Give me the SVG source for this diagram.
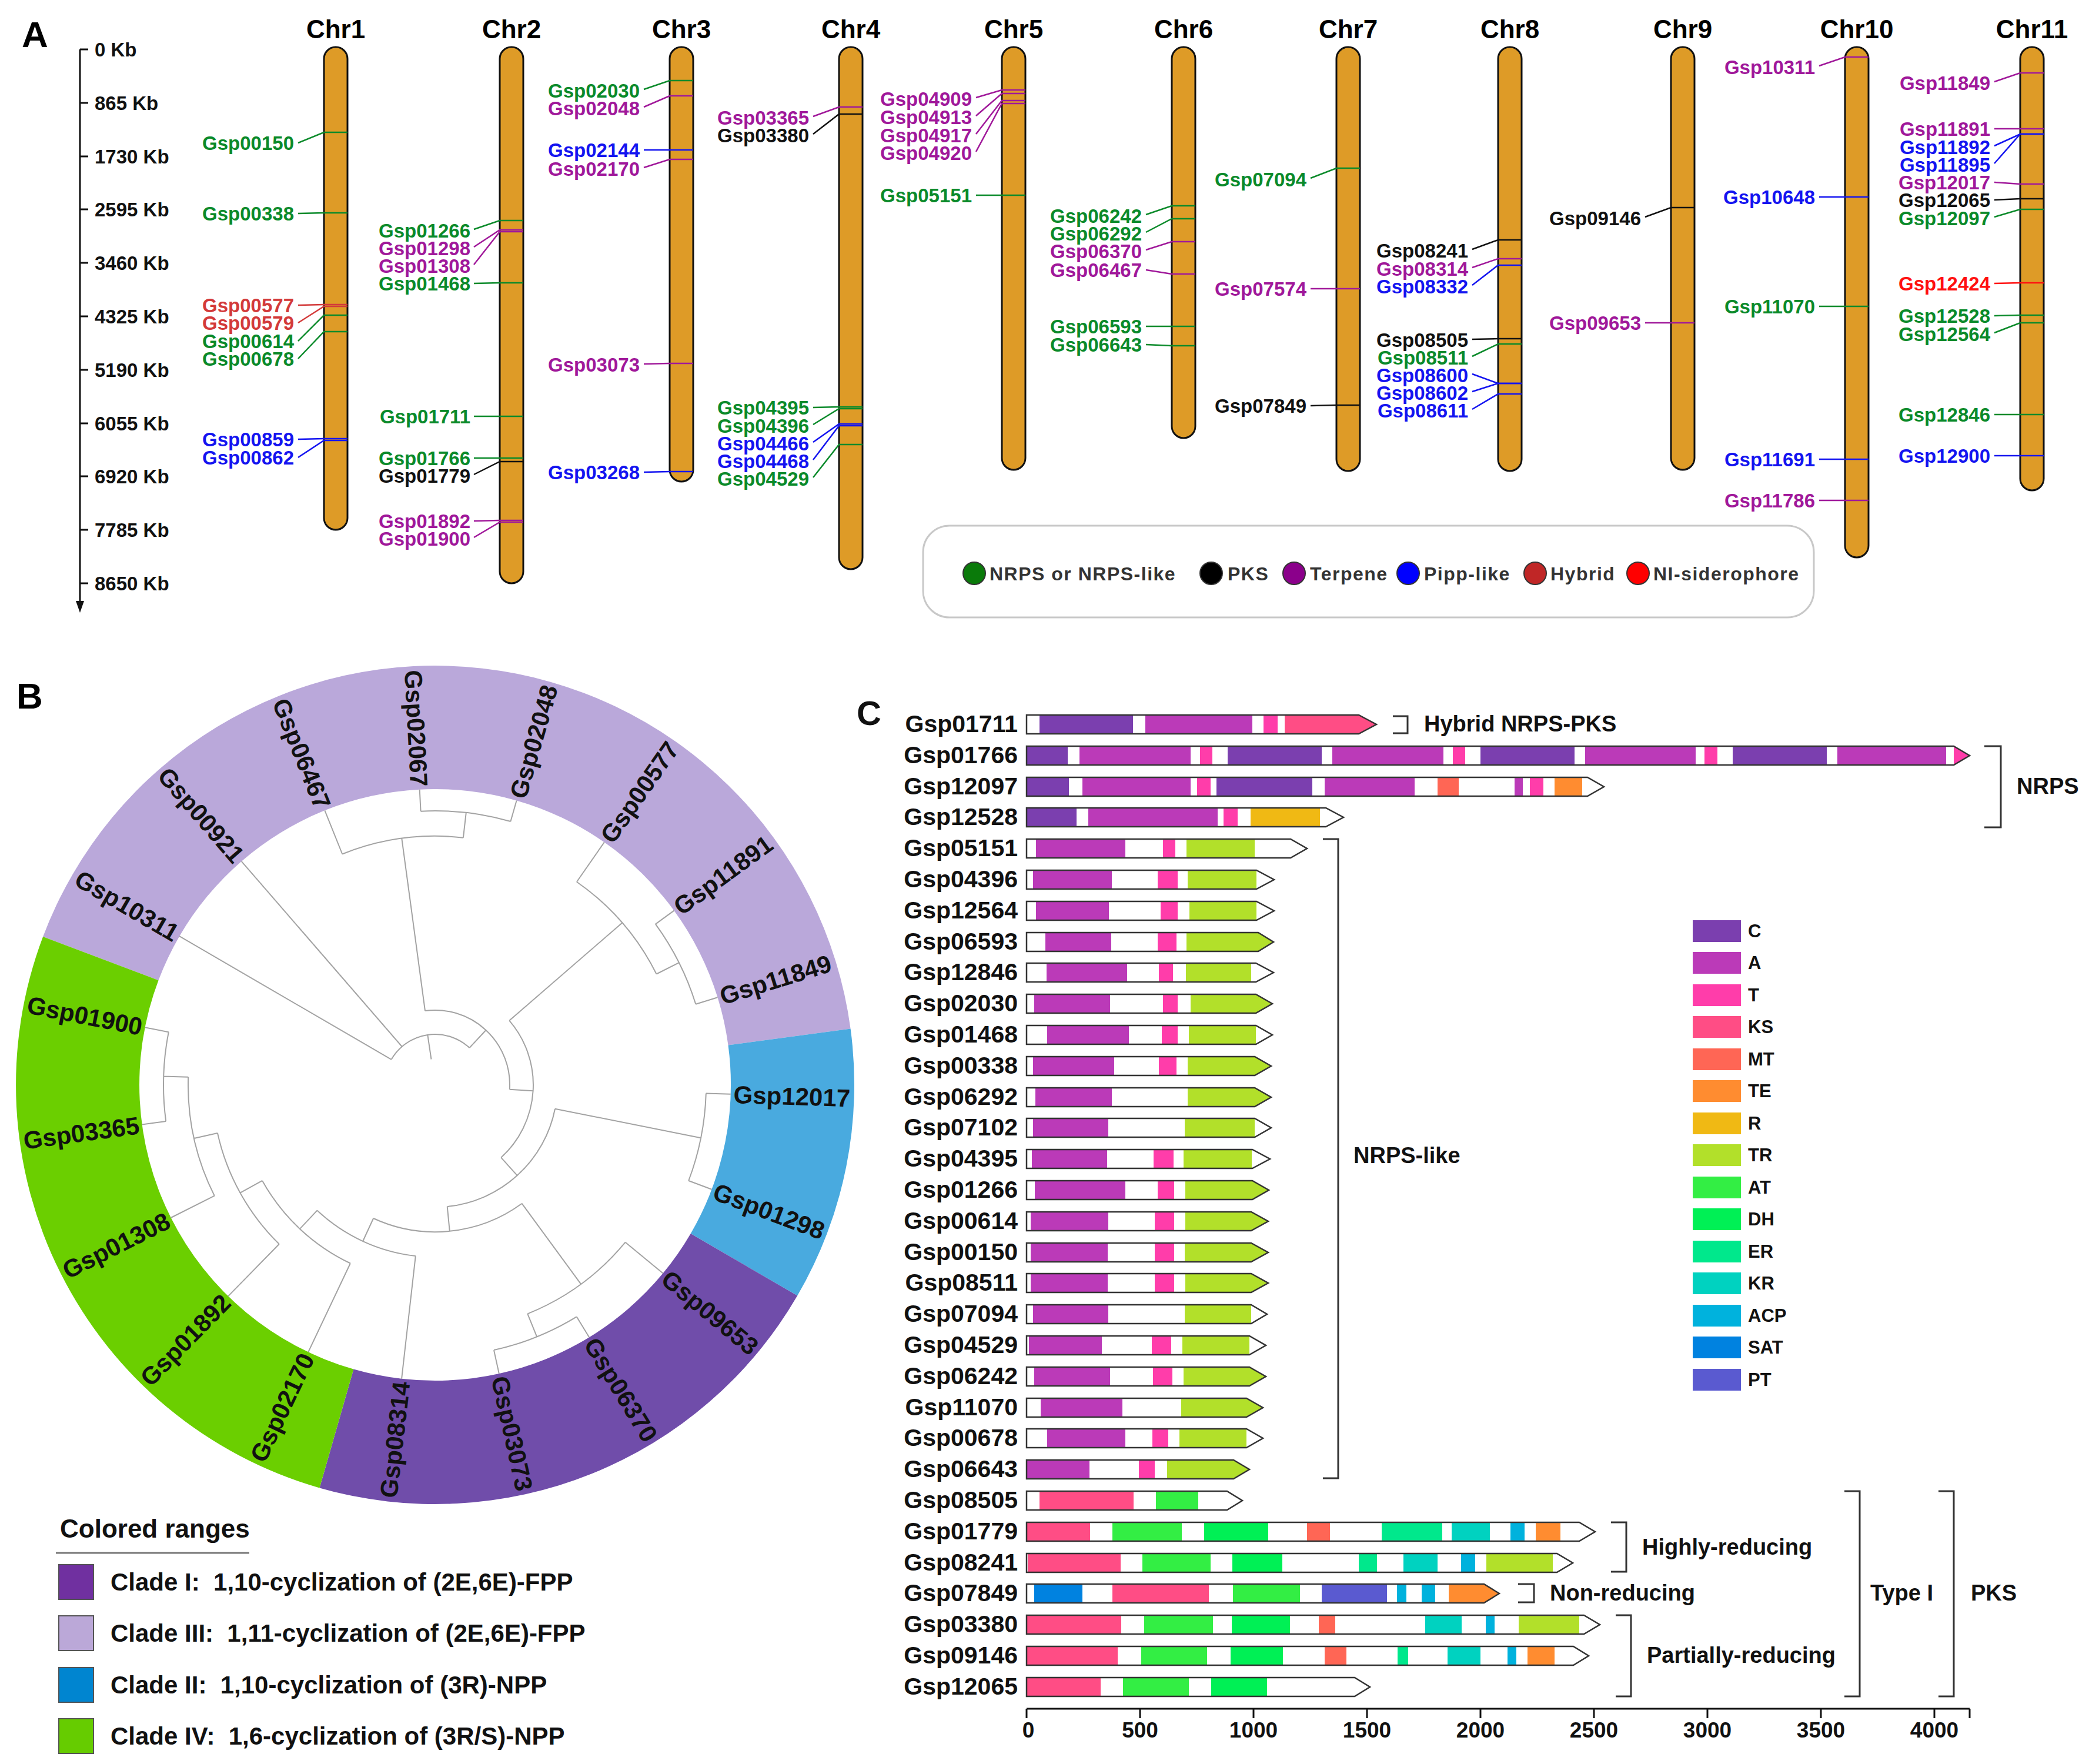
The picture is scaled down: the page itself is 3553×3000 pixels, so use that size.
<svg xmlns="http://www.w3.org/2000/svg" width="3553" height="3000" viewBox="0 0 3553 3000">
<style>
text{font-family:'Liberation Sans',Arial,Helvetica,sans-serif;font-weight:bold}
.pl{font-size:62px}
.chrl{font-size:44px;text-anchor:middle}
.chr{fill:#DE9B27;stroke:#111;stroke-width:3}
.ax{stroke:#111;stroke-width:3;fill:none}
.axt{font-size:33px;fill:#111}
.ga text{font-size:33px;text-anchor:end}
.ga path{fill:none;stroke-width:2.5}
.G text{fill:#0A8A2A}.G path{stroke:#0A8A2A}
.M text{fill:#A0189A}.M path{stroke:#A0189A}
.B text{fill:#1414F0}.B path{stroke:#1414F0}
.K text{fill:#111}.K path{stroke:#111}
.H text{fill:#D33A3A}.H path{stroke:#D33A3A}
.N text{fill:#FF1010}.N path{stroke:#FF1010}
.lgA{font-size:32px;fill:#333;letter-spacing:1.5px}
.lc{stroke:#333;stroke-width:2}
.tree{fill:none;stroke:#A3A3A3;stroke-width:2}
.bl{font-size:42px;fill:#111}
.bl2{font-size:42px;fill:#111;text-anchor:end}
.lgB{font-size:42px;fill:#111;white-space:pre}
.sw{stroke:#555;stroke-width:2}
.cl{font-size:41px;fill:#111;text-anchor:end}
.bg{fill:#fff}
.ol{fill:none;stroke:#333;stroke-width:2.5;stroke-linejoin:miter}
.dC{fill:#7B3FAF}.dA{fill:#BB3AB8}.dT{fill:#FF3DAA}.dKS{fill:#FF4D85}.dMT{fill:#FF6655}.dTE{fill:#FF8C30}.dR{fill:#F0B914}.dTR{fill:#B2E02A}.dAT{fill:#33EE44}.dDH{fill:#00F055}.dER{fill:#00E88C}.dKR{fill:#00D2C0}.dACP{fill:#00B2DD}.dSAT{fill:#0082E0}.dPT{fill:#5A5AD0}
.brk{fill:none;stroke:#333;stroke-width:3}
.bt{font-size:38px;fill:#111}
.lgC{font-size:31px;fill:#111}
.cax{font-size:37px;fill:#111;text-anchor:middle}
</style>
<rect width="3553" height="3000" fill="#fff"/>

<!-- ================= PANEL A ================= -->
<text class="pl" x="37" y="80">A</text>
<g id="scale">
<path class="ax" d="M136 84V1026M136 84H150M136 175H150M136 266H150M136 356H150M136 447H150M136 538H150M136 629H150M136 720H150M136 810H150M136 901H150M136 992H150"/>
<polygon points="129,1022 143,1022 136,1042" fill="#111"/>
<text class="axt" x="161" y="96">0 Kb</text>
<text class="axt" x="161" y="187">865 Kb</text>
<text class="axt" x="161" y="278">1730 Kb</text>
<text class="axt" x="161" y="368">2595 Kb</text>
<text class="axt" x="161" y="459">3460 Kb</text>
<text class="axt" x="161" y="550">4325 Kb</text>
<text class="axt" x="161" y="641">5190 Kb</text>
<text class="axt" x="161" y="732">6055 Kb</text>
<text class="axt" x="161" y="822">6920 Kb</text>
<text class="axt" x="161" y="913">7785 Kb</text>
<text class="axt" x="161" y="1004">8650 Kb</text>
</g>

<g id="chromosomes">
<g id="Chr1"><text class="chrl" x="571" y="65">Chr1</text><rect class="chr" x="551" y="80" width="40" height="821" rx="20"/></g>
<g id="Chr2"><text class="chrl" x="870" y="65">Chr2</text><rect class="chr" x="850" y="80" width="40" height="912" rx="20"/></g>
<g id="Chr3"><text class="chrl" x="1159" y="65">Chr3</text><rect class="chr" x="1139" y="80" width="40" height="739" rx="20"/></g>
<g id="Chr4"><text class="chrl" x="1447" y="65">Chr4</text><rect class="chr" x="1427" y="80" width="40" height="888" rx="20"/></g>
<g id="Chr5"><text class="chrl" x="1724" y="65">Chr5</text><rect class="chr" x="1704" y="80" width="40" height="719" rx="20"/></g>
<g id="Chr6"><text class="chrl" x="2013" y="65">Chr6</text><rect class="chr" x="1993" y="80" width="40" height="665" rx="20"/></g>
<g id="Chr7"><text class="chrl" x="2293" y="65">Chr7</text><rect class="chr" x="2273" y="80" width="40" height="721" rx="20"/></g>
<g id="Chr8"><text class="chrl" x="2568" y="65">Chr8</text><rect class="chr" x="2548" y="80" width="40" height="721" rx="20"/></g>
<g id="Chr9"><text class="chrl" x="2862" y="65">Chr9</text><rect class="chr" x="2842" y="80" width="40" height="719" rx="20"/></g>
<g id="Chr10"><text class="chrl" x="3158" y="65">Chr10</text><rect class="chr" x="3138" y="80" width="40" height="868" rx="20"/></g>
<g id="Chr11"><text class="chrl" x="3456" y="65">Chr11</text><rect class="chr" x="3436" y="80" width="40" height="754" rx="20"/></g>
</g>

<g id="gene-labels" class="ga">
<!-- Chr1 -->
<g id="a-Gsp00150" class="G"><text x="500" y="255">Gsp00150</text><path d="M507 243L551 225H591"/></g>
<g id="a-Gsp00338" class="G"><text x="500" y="375">Gsp00338</text><path d="M507 363L551 362H591"/></g>
<g id="a-Gsp00577" class="H"><text x="500" y="531">Gsp00577</text><path d="M507 519L551 518H591"/></g>
<g id="a-Gsp00579" class="H"><text x="500" y="561">Gsp00579</text><path d="M507 549L551 521H591"/></g>
<g id="a-Gsp00614" class="G"><text x="500" y="592">Gsp00614</text><path d="M507 580L551 536H591"/></g>
<g id="a-Gsp00678" class="G"><text x="500" y="622">Gsp00678</text><path d="M507 610L551 564H591"/></g>
<g id="a-Gsp00859" class="B"><text x="500" y="759">Gsp00859</text><path d="M507 747L551 746H591"/></g>
<g id="a-Gsp00862" class="B"><text x="500" y="790">Gsp00862</text><path d="M507 778L551 749H591"/></g>
<!-- Chr2 -->
<g id="a-Gsp01266" class="G"><text x="800" y="404">Gsp01266</text><path d="M806 390L850 375H890"/></g>
<g id="a-Gsp01298" class="M"><text x="800" y="434">Gsp01298</text><path d="M806 420L850 391H890"/></g>
<g id="a-Gsp01308" class="M"><text x="800" y="464">Gsp01308</text><path d="M806 450L850 394H890"/></g>
<g id="a-Gsp01468" class="G"><text x="800" y="494">Gsp01468</text><path d="M806 482L850 481H890"/></g>
<g id="a-Gsp01711" class="G"><text x="800" y="720">Gsp01711</text><path d="M806 708L850 708H890"/></g>
<g id="a-Gsp01766" class="G"><text x="800" y="791">Gsp01766</text><path d="M806 779L850 779H890"/></g>
<g id="a-Gsp01779" class="K"><text x="800" y="821">Gsp01779</text><path d="M806 807L850 785H890"/></g>
<g id="a-Gsp01892" class="M"><text x="800" y="898">Gsp01892</text><path d="M806 886L850 885H890"/></g>
<g id="a-Gsp01900" class="M"><text x="800" y="928">Gsp01900</text><path d="M806 914L850 888H890"/></g>
<!-- Chr3 -->
<g id="a-Gsp02030" class="G"><text x="1088" y="166">Gsp02030</text><path d="M1095 152L1139 137H1179"/></g>
<g id="a-Gsp02048" class="M"><text x="1088" y="196">Gsp02048</text><path d="M1095 182L1139 163H1179"/></g>
<g id="a-Gsp02144" class="B"><text x="1088" y="267">Gsp02144</text><path d="M1095 255L1139 255H1179"/></g>
<g id="a-Gsp02170" class="M"><text x="1088" y="299">Gsp02170</text><path d="M1095 285L1139 271H1179"/></g>
<g id="a-Gsp03073" class="M"><text x="1088" y="632">Gsp03073</text><path d="M1095 619L1139 618H1179"/></g>
<g id="a-Gsp03268" class="B"><text x="1088" y="815">Gsp03268</text><path d="M1095 803L1139 802H1179"/></g>
<!-- Chr4 -->
<g id="a-Gsp03365" class="M"><text x="1376" y="212">Gsp03365</text><path d="M1383 198L1427 182H1467"/></g>
<g id="a-Gsp03380" class="K"><text x="1376" y="242">Gsp03380</text><path d="M1383 228L1427 194H1467"/></g>
<g id="a-Gsp04395" class="G"><text x="1376" y="705">Gsp04395</text><path d="M1383 693L1427 692H1467"/></g>
<g id="a-Gsp04396" class="G"><text x="1376" y="736">Gsp04396</text><path d="M1383 722L1427 695H1467"/></g>
<g id="a-Gsp04466" class="B"><text x="1376" y="766">Gsp04466</text><path d="M1383 752L1427 721H1467"/></g>
<g id="a-Gsp04468" class="B"><text x="1376" y="796">Gsp04468</text><path d="M1383 782L1427 724H1467"/></g>
<g id="a-Gsp04529" class="G"><text x="1376" y="826">Gsp04529</text><path d="M1383 812L1427 756H1467"/></g>
<!-- Chr5 -->
<g id="a-Gsp04909" class="M"><text x="1653" y="180">Gsp04909</text><path d="M1660 166L1704 153H1744"/></g>
<g id="a-Gsp04913" class="M"><text x="1653" y="211">Gsp04913</text><path d="M1660 197L1704 159H1744"/></g>
<g id="a-Gsp04917" class="M"><text x="1653" y="242">Gsp04917</text><path d="M1660 228L1704 171H1744"/></g>
<g id="a-Gsp04920" class="M"><text x="1653" y="272">Gsp04920</text><path d="M1660 258L1704 176H1744"/></g>
<g id="a-Gsp05151" class="G"><text x="1653" y="344">Gsp05151</text><path d="M1660 332L1704 332H1744"/></g>
<!-- Chr6 -->
<g id="a-Gsp06242" class="G"><text x="1942" y="379">Gsp06242</text><path d="M1949 365L1993 350H2033"/></g>
<g id="a-Gsp06292" class="G"><text x="1942" y="409">Gsp06292</text><path d="M1949 395L1993 372H2033"/></g>
<g id="a-Gsp06370" class="M"><text x="1942" y="439">Gsp06370</text><path d="M1949 425L1993 411H2033"/></g>
<g id="a-Gsp06467" class="M"><text x="1942" y="471">Gsp06467</text><path d="M1949 459L1993 466H2033"/></g>
<g id="a-Gsp06593" class="G"><text x="1942" y="567">Gsp06593</text><path d="M1949 555L1993 555H2033"/></g>
<g id="a-Gsp06643" class="G"><text x="1942" y="598">Gsp06643</text><path d="M1949 586L1993 588H2033"/></g>
<!-- Chr7 -->
<g id="a-Gsp07094" class="G"><text x="2222" y="317">Gsp07094</text><path d="M2229 303L2273 286H2313"/></g>
<g id="a-Gsp07574" class="M"><text x="2222" y="503">Gsp07574</text><path d="M2229 491L2273 491H2313"/></g>
<g id="a-Gsp07849" class="K"><text x="2222" y="702">Gsp07849</text><path d="M2229 690L2273 689H2313"/></g>
<!-- Chr8 -->
<g id="a-Gsp08241" class="K"><text x="2497" y="438">Gsp08241</text><path d="M2504 424L2548 408H2588"/></g>
<g id="a-Gsp08314" class="M"><text x="2497" y="469">Gsp08314</text><path d="M2504 455L2548 440H2588"/></g>
<g id="a-Gsp08332" class="B"><text x="2497" y="499">Gsp08332</text><path d="M2504 485L2548 451H2588"/></g>
<g id="a-Gsp08505" class="K"><text x="2497" y="590">Gsp08505</text><path d="M2504 577L2548 576H2588"/></g>
<g id="a-Gsp08511" class="G"><text x="2497" y="620">Gsp08511</text><path d="M2504 606L2548 585H2588"/></g>
<g id="a-Gsp08600" class="B"><text x="2497" y="650">Gsp08600</text><path d="M2504 636L2548 652H2588"/></g>
<g id="a-Gsp08602" class="B"><text x="2497" y="680">Gsp08602</text><path d="M2504 666L2548 652H2588"/></g>
<g id="a-Gsp08611" class="B"><text x="2497" y="710">Gsp08611</text><path d="M2504 696L2548 670H2588"/></g>
<!-- Chr9 -->
<g id="a-Gsp09146" class="K"><text x="2791" y="383">Gsp09146</text><path d="M2798 369L2842 353H2882"/></g>
<g id="a-Gsp09653" class="M"><text x="2791" y="561">Gsp09653</text><path d="M2798 549L2842 549H2882"/></g>
<!-- Chr10 -->
<g id="a-Gsp10311" class="M"><text x="3087" y="126">Gsp10311</text><path d="M3094 112L3138 97H3178"/></g>
<g id="a-Gsp10648" class="B"><text x="3087" y="347">Gsp10648</text><path d="M3094 335L3138 335H3178"/></g>
<g id="a-Gsp11070" class="G"><text x="3087" y="533">Gsp11070</text><path d="M3094 521L3138 521H3178"/></g>
<g id="a-Gsp11691" class="B"><text x="3087" y="793">Gsp11691</text><path d="M3094 781L3138 781H3178"/></g>
<g id="a-Gsp11786" class="M"><text x="3087" y="863">Gsp11786</text><path d="M3094 851L3138 851H3178"/></g>
<!-- Chr11 -->
<g id="a-Gsp11849" class="M"><text x="3385" y="153">Gsp11849</text><path d="M3392 139L3436 124H3476"/></g>
<g id="a-Gsp11891" class="M"><text x="3385" y="231">Gsp11891</text><path d="M3392 219L3436 219H3476"/></g>
<g id="a-Gsp11892" class="B"><text x="3385" y="262">Gsp11892</text><path d="M3392 248L3436 228H3476"/></g>
<g id="a-Gsp11895" class="B"><text x="3385" y="292">Gsp11895</text><path d="M3392 278L3436 228H3476"/></g>
<g id="a-Gsp12017" class="M"><text x="3385" y="322">Gsp12017</text><path d="M3392 310L3436 313H3476"/></g>
<g id="a-Gsp12065" class="K"><text x="3385" y="352">Gsp12065</text><path d="M3392 340L3436 338H3476"/></g>
<g id="a-Gsp12097" class="G"><text x="3385" y="383">Gsp12097</text><path d="M3392 369L3436 356H3476"/></g>
<g id="a-Gsp12424" class="N"><text x="3385" y="494">Gsp12424</text><path d="M3392 482L3436 481H3476"/></g>
<g id="a-Gsp12528" class="G"><text x="3385" y="549">Gsp12528</text><path d="M3392 537L3436 536H3476"/></g>
<g id="a-Gsp12564" class="G"><text x="3385" y="580">Gsp12564</text><path d="M3392 566L3436 549H3476"/></g>
<g id="a-Gsp12846" class="G"><text x="3385" y="717">Gsp12846</text><path d="M3392 705L3436 705H3476"/></g>
<g id="a-Gsp12900" class="B"><text x="3385" y="787">Gsp12900</text><path d="M3392 775L3436 775H3476"/></g>
</g>

<g id="legend-A">
<rect x="1570" y="894" width="1515" height="156" rx="45" fill="#fff" stroke="#C8C8C8" stroke-width="3"/>
<circle class="lc" cx="1657" cy="975" r="19" fill="#0A7A0A"/>
<text class="lgA" x="1683" y="987">NRPS or NRPS-like</text>
<circle class="lc" cx="2060" cy="975" r="19" fill="#000"/>
<text class="lgA" x="2088" y="987">PKS</text>
<circle class="lc" cx="2201" cy="975" r="19" fill="#8B008B"/>
<text class="lgA" x="2228" y="987">Terpene</text>
<circle class="lc" cx="2395" cy="975" r="19" fill="#0000FF"/>
<text class="lgA" x="2422" y="987">Pipp-like</text>
<circle class="lc" cx="2611" cy="975" r="19" fill="#C02626"/>
<text class="lgA" x="2637" y="987">Hybrid</text>
<circle class="lc" cx="2786" cy="975" r="19" fill="#FF0000"/>
<text class="lgA" x="2812" y="987">NI-siderophore</text>
</g>

<!-- ================= PANEL B ================= -->
<text class="pl" x="28" y="1205">B</text>
<g id="ring">
<path fill="#BAA8DA" d="M73.1 1593.0A713 713 0 0 1 1446.6 1749.5L1238.5 1777.6A503 503 0 0 0 269.5 1667.2Z"/>
<path fill="#49AADF" d="M1446.6 1749.5A713 713 0 0 1 1356.2 2203.6L1174.7 2098.0A503 503 0 0 0 1238.5 1777.6Z"/>
<path fill="#704DAA" d="M1356.2 2203.6A713 713 0 0 1 543.5 2530.4L601.4 2328.5A503 503 0 0 0 1174.7 2098.0Z"/>
<path fill="#6BCF00" d="M543.5 2530.4A713 713 0 0 1 73.1 1593.0L269.5 1667.2A503 503 0 0 0 601.4 2328.5Z"/>
</g>
<g id="tree-connectors">
<path class="tree" d="M733.5 1801.5L727.3 1759.9
M665.6 1801.8A86 86 0 0 1 798.5 1782.0
M665.6 1801.8L305.1 1592.2
M683.7 1780.0L410.7 1464.8
M798.5 1782.0L826.4 1752.0
M723.0 1719.1A127 127 0 0 1 866.8 1852.7
M723.0 1719.1L683.3 1425.8
M582.2 1452.5A423 423 0 0 1 787.9 1424.7
M582.2 1452.5L552.4 1378.3
M787.9 1424.7L792.8 1382.0
M715.6 1379.7A466 466 0 0 1 868.4 1397.0
M715.6 1379.7L713.7 1342.7
M868.4 1397.0L878.6 1361.5
M866.8 1852.7L906.7 1855.2
M866.2 1735.7A167 167 0 0 1 852.2 1968.7
M866.2 1735.7L1058.2 1569.4
M980.9 1499.7A421 421 0 0 1 1116.5 1656.5
M980.9 1499.7L1027.8 1432.4
M1116.5 1656.5L1154.9 1637.2
M1114.9 1571.6A464 464 0 0 1 1183.3 1707.8
M1114.9 1571.6L1146.4 1548.6
M1183.3 1707.8L1220.5 1696.3
M852.2 1968.7L879.7 1999.1
M944.0 1885.7A208 208 0 0 1 760.7 2052.0
M944.0 1885.7L1192.1 1935.3
M1200.8 1859.5A461 461 0 0 1 1171.2 2008.0
M1200.8 1859.5L1242.7 1860.8
M1171.2 2008.0L1210.5 2022.8
M760.7 2052.0L764.8 2093.8
M887.7 2046.8A250 250 0 0 1 635.1 2072.0
M887.7 2046.8L988.1 2183.9
M1063.6 2112.7A420 420 0 0 1 897.3 2234.4
M1063.6 2112.7L1127.6 2165.6
M897.3 2234.4L913.1 2273.4
M980.7 2239.3A462 462 0 0 1 840.0 2296.1
M980.7 2239.3L1002.1 2274.3
M840.0 2296.1L848.8 2336.1
M635.1 2072.0L617.1 2111.0
M706.8 2136.1A293 293 0 0 1 539.4 2058.6
M706.8 2136.1L683.1 2344.8
M539.4 2058.6L510.0 2089.9
M595.9 2148.5A336 336 0 0 1 446.1 2007.9
M595.9 2148.5L524.3 2299.4
M446.1 2007.9L408.5 2028.7
M474.8 2115.8A379 379 0 0 1 370.0 1927.0
M474.8 2115.8L388.1 2204.4
M370.0 1927.0L330.0 1935.9
M364.8 2033.7A420 420 0 0 1 320.2 1831.8
M364.8 2033.7L290.6 2071.0
M320.2 1831.8L278.2 1830.5
M282.2 1906.9A462 462 0 0 1 286.8 1755.3
M282.2 1906.9L241.5 1912.4
M286.8 1755.3L246.6 1747.3"/>
</g>
<g id="tree-labels">
<g id="b-Gsp11849"><text class="bl" x="1248" y="1845" dy="0.36em" transform="rotate(-17.2 740 1845)">Gsp11849</text></g>
<g id="b-Gsp11891"><text class="bl" x="1248" y="1845" dy="0.36em" transform="rotate(-36.1 740 1845)">Gsp11891</text></g>
<g id="b-Gsp00577"><text class="bl" x="1248" y="1845" dy="0.36em" transform="rotate(-55.1 740 1845)">Gsp00577</text></g>
<g id="b-Gsp02048"><text class="bl" x="1248" y="1845" dy="0.36em" transform="rotate(-74 740 1845)">Gsp02048</text></g>
<g id="b-Gsp12017"><text class="bl" x="1248" y="1845" dy="0.36em" transform="rotate(1.8 740 1845)">Gsp12017</text></g>
<g id="b-Gsp01298"><text class="bl" x="1248" y="1845" dy="0.36em" transform="rotate(20.7 740 1845)">Gsp01298</text></g>
<g id="b-Gsp09653"><text class="bl" x="1248" y="1845" dy="0.36em" transform="rotate(39.6 740 1845)">Gsp09653</text></g>
<g id="b-Gsp06370"><text class="bl" x="1248" y="1845" dy="0.36em" transform="rotate(58.6 740 1845)">Gsp06370</text></g>
<g id="b-Gsp03073"><text class="bl" x="1248" y="1845" dy="0.36em" transform="rotate(77.5 740 1845)">Gsp03073</text></g>
<g id="b-Gsp08314"><text class="bl2" x="232" y="1845" dy="0.36em" transform="rotate(-83.5 740 1845)">Gsp08314</text></g>
<g id="b-Gsp02170"><text class="bl2" x="232" y="1845" dy="0.36em" transform="rotate(-64.6 740 1845)">Gsp02170</text></g>
<g id="b-Gsp01892"><text class="bl2" x="232" y="1845" dy="0.36em" transform="rotate(-45.6 740 1845)">Gsp01892</text></g>
<g id="b-Gsp01308"><text class="bl2" x="232" y="1845" dy="0.36em" transform="rotate(-26.7 740 1845)">Gsp01308</text></g>
<g id="b-Gsp03365"><text class="bl2" x="232" y="1845" dy="0.36em" transform="rotate(-7.7 740 1845)">Gsp03365</text></g>
<g id="b-Gsp01900"><text class="bl2" x="232" y="1845" dy="0.36em" transform="rotate(11.2 740 1845)">Gsp01900</text></g>
<g id="b-Gsp10311"><text class="bl2" x="232" y="1845" dy="0.36em" transform="rotate(30.2 740 1845)">Gsp10311</text></g>
<g id="b-Gsp00921"><text class="bl2" x="232" y="1845" dy="0.36em" transform="rotate(49.1 740 1845)">Gsp00921</text></g>
<g id="b-Gsp06467"><text class="bl2" x="232" y="1845" dy="0.36em" transform="rotate(68.1 740 1845)">Gsp06467</text></g>
<g id="b-Gsp02067"><text class="bl2" x="232" y="1845" dy="0.36em" transform="rotate(87 740 1845)">Gsp02067</text></g>
</g>
<g id="legend-B">
<text x="102" y="2615" font-size="44" fill="#111">Colored ranges</text>
<path d="M95 2641H424" stroke="#777" stroke-width="3"/>
<rect class="sw" x="100" y="2661" width="59" height="59" fill="#7030A0"/>
<text class="lgB" x="188" y="2705">Clade I:  1,10-cyclization of (2E,6E)-FPP</text>
<rect class="sw" x="100" y="2748" width="59" height="59" fill="#BBA8D8"/>
<text class="lgB" x="188" y="2792">Clade III:  1,11-cyclization of (2E,6E)-FPP</text>
<rect class="sw" x="100" y="2836" width="59" height="59" fill="#0085D0"/>
<text class="lgB" x="188" y="2880">Clade II:  1,10-cyclization of (3R)-NPP</text>
<rect class="sw" x="100" y="2923" width="59" height="59" fill="#66CC00"/>
<text class="lgB" x="188" y="2967">Clade IV:  1,6-cyclization of (3R/S)-NPP</text>
</g>

<!-- ================= PANEL C ================= -->
<text x="1457" y="1233" font-size="58" fill="#111">C</text>
<g id="domain-rows">
<g id="c-Gsp01711" transform="translate(0,1232)"><path class="bg" d="M1746 -16H2311L2341 0L2311 16H1746Z"/><rect class="dC" x="1768" y="-16" width="159" height="32"/><rect class="dA" x="1948" y="-16" width="182" height="32"/><rect class="dT" x="2149" y="-16" width="24" height="32"/><rect class="dKS" x="2185" y="-16" width="126" height="32"/><path class="dKS" d="M2311 -16L2341 0L2311 16Z"/><path class="ol" d="M1746 -16H2311L2341 0L2311 16H1746Z"/><text class="cl" x="1731" y="13">Gsp01711</text></g>
<g id="c-Gsp01766" transform="translate(0,1285)"><path class="bg" d="M1746 -16H3323L3350 0L3323 16H1746Z"/><rect class="dC" x="1746" y="-16" width="70" height="32"/><rect class="dA" x="1836" y="-16" width="189" height="32"/><rect class="dT" x="2041" y="-16" width="21" height="32"/><rect class="dC" x="2088" y="-16" width="160" height="32"/><rect class="dA" x="2266" y="-16" width="189" height="32"/><rect class="dT" x="2471" y="-16" width="21" height="32"/><rect class="dC" x="2518" y="-16" width="160" height="32"/><rect class="dA" x="2696" y="-16" width="188" height="32"/><rect class="dT" x="2899" y="-16" width="22" height="32"/><rect class="dC" x="2947" y="-16" width="160" height="32"/><rect class="dA" x="3125" y="-16" width="185" height="32"/><path class="dT" d="M3323 -16L3350 0L3323 16Z"/><path class="ol" d="M1746 -16H3323L3350 0L3323 16H1746Z"/><text class="cl" x="1731" y="13">Gsp01766</text></g>
<g id="c-Gsp12097" transform="translate(0,1338)"><path class="bg" d="M1746 -16H2700L2728 0L2700 16H1746Z"/><rect class="dC" x="1746" y="-16" width="72" height="32"/><rect class="dA" x="1841" y="-16" width="184" height="32"/><rect class="dT" x="2036" y="-16" width="23" height="32"/><rect class="dC" x="2069" y="-16" width="163" height="32"/><rect class="dA" x="2253" y="-16" width="153" height="32"/><rect class="dMT" x="2445" y="-16" width="36" height="32"/><rect class="dA" x="2576" y="-16" width="14" height="32"/><rect class="dT" x="2602" y="-16" width="23" height="32"/><rect class="dTE" x="2644" y="-16" width="47" height="32"/><path class="ol" d="M1746 -16H2700L2728 0L2700 16H1746Z"/><text class="cl" x="1731" y="13">Gsp12097</text></g>
<g id="c-Gsp12528" transform="translate(0,1390)"><path class="bg" d="M1746 -16H2255L2285 0L2255 16H1746Z"/><rect class="dC" x="1746" y="-16" width="85" height="32"/><rect class="dA" x="1851" y="-16" width="220" height="32"/><rect class="dT" x="2081" y="-16" width="24" height="32"/><rect class="dR" x="2127" y="-16" width="118" height="32"/><path class="ol" d="M1746 -16H2255L2285 0L2255 16H1746Z"/><text class="cl" x="1731" y="13">Gsp12528</text></g>
<g id="c-Gsp05151" transform="translate(0,1443)"><path class="bg" d="M1746 -16H2195L2223 0L2195 16H1746Z"/><rect class="dA" x="1762" y="-16" width="152" height="32"/><rect class="dT" x="1978" y="-16" width="21" height="32"/><rect class="dTR" x="2018" y="-16" width="116" height="32"/><path class="ol" d="M1746 -16H2195L2223 0L2195 16H1746Z"/><text class="cl" x="1731" y="13">Gsp05151</text></g>
<g id="c-Gsp04396" transform="translate(0,1496)"><path class="bg" d="M1746 -16H2137L2167 0L2137 16H1746Z"/><rect class="dA" x="1757" y="-16" width="134" height="32"/><rect class="dT" x="1969" y="-16" width="34" height="32"/><rect class="dTR" x="2020" y="-16" width="117" height="32"/><path class="ol" d="M1746 -16H2137L2167 0L2137 16H1746Z"/><text class="cl" x="1731" y="13">Gsp04396</text></g>
<g id="c-Gsp12564" transform="translate(0,1549)"><path class="bg" d="M1746 -16H2137L2167 0L2137 16H1746Z"/><rect class="dA" x="1762" y="-16" width="124" height="32"/><rect class="dT" x="1974" y="-16" width="29" height="32"/><rect class="dTR" x="2023" y="-16" width="114" height="32"/><path class="ol" d="M1746 -16H2137L2167 0L2137 16H1746Z"/><text class="cl" x="1731" y="13">Gsp12564</text></g>
<g id="c-Gsp06593" transform="translate(0,1602)"><path class="bg" d="M1746 -16H2140L2166 0L2140 16H1746Z"/><rect class="dA" x="1778" y="-16" width="112" height="32"/><rect class="dT" x="1969" y="-16" width="32" height="32"/><rect class="dTR" x="2018" y="-16" width="122" height="32"/><path class="dTR" d="M2140 -16L2166 0L2140 16Z"/><path class="ol" d="M1746 -16H2140L2166 0L2140 16H1746Z"/><text class="cl" x="1731" y="13">Gsp06593</text></g>
<g id="c-Gsp12846" transform="translate(0,1654)"><path class="bg" d="M1746 -16H2136L2166 0L2136 16H1746Z"/><rect class="dA" x="1780" y="-16" width="137" height="32"/><rect class="dT" x="1971" y="-16" width="24" height="32"/><rect class="dTR" x="2017" y="-16" width="111" height="32"/><path class="ol" d="M1746 -16H2136L2166 0L2136 16H1746Z"/><text class="cl" x="1731" y="13">Gsp12846</text></g>
<g id="c-Gsp02030" transform="translate(0,1707)"><path class="bg" d="M1746 -16H2136L2164 0L2136 16H1746Z"/><rect class="dA" x="1759" y="-16" width="129" height="32"/><rect class="dT" x="1978" y="-16" width="25" height="32"/><rect class="dTR" x="2025" y="-16" width="111" height="32"/><path class="dTR" d="M2136 -16L2164 0L2136 16Z"/><path class="ol" d="M1746 -16H2136L2164 0L2136 16H1746Z"/><text class="cl" x="1731" y="13">Gsp02030</text></g>
<g id="c-Gsp01468" transform="translate(0,1760)"><path class="bg" d="M1746 -16H2136L2164 0L2136 16H1746Z"/><rect class="dA" x="1781" y="-16" width="139" height="32"/><rect class="dT" x="1976" y="-16" width="27" height="32"/><rect class="dTR" x="2022" y="-16" width="114" height="32"/><path class="ol" d="M1746 -16H2136L2164 0L2136 16H1746Z"/><text class="cl" x="1731" y="13">Gsp01468</text></g>
<g id="c-Gsp00338" transform="translate(0,1813)"><path class="bg" d="M1746 -16H2134L2162 0L2134 16H1746Z"/><rect class="dA" x="1757" y="-16" width="138" height="32"/><rect class="dT" x="1971" y="-16" width="30" height="32"/><rect class="dTR" x="2020" y="-16" width="114" height="32"/><path class="dTR" d="M2134 -16L2162 0L2134 16Z"/><path class="ol" d="M1746 -16H2134L2162 0L2134 16H1746Z"/><text class="cl" x="1731" y="13">Gsp00338</text></g>
<g id="c-Gsp06292" transform="translate(0,1866)"><path class="bg" d="M1746 -16H2134L2162 0L2134 16H1746Z"/><rect class="dA" x="1761" y="-16" width="130" height="32"/><rect class="dTR" x="2020" y="-16" width="114" height="32"/><path class="dTR" d="M2134 -16L2162 0L2134 16Z"/><path class="ol" d="M1746 -16H2134L2162 0L2134 16H1746Z"/><text class="cl" x="1731" y="13">Gsp06292</text></g>
<g id="c-Gsp07102" transform="translate(0,1918)"><path class="bg" d="M1746 -16H2134L2162 0L2134 16H1746Z"/><rect class="dA" x="1757" y="-16" width="128" height="32"/><rect class="dTR" x="2015" y="-16" width="119" height="32"/><path class="ol" d="M1746 -16H2134L2162 0L2134 16H1746Z"/><text class="cl" x="1731" y="13">Gsp07102</text></g>
<g id="c-Gsp04395" transform="translate(0,1971)"><path class="bg" d="M1746 -16H2130L2160 0L2130 16H1746Z"/><rect class="dA" x="1755" y="-16" width="128" height="32"/><rect class="dT" x="1962" y="-16" width="34" height="32"/><rect class="dTR" x="2013" y="-16" width="116" height="32"/><path class="ol" d="M1746 -16H2130L2160 0L2130 16H1746Z"/><text class="cl" x="1731" y="13">Gsp04395</text></g>
<g id="c-Gsp01266" transform="translate(0,2024)"><path class="bg" d="M1746 -16H2130L2158 0L2130 16H1746Z"/><rect class="dA" x="1760" y="-16" width="154" height="32"/><rect class="dT" x="1969" y="-16" width="28" height="32"/><rect class="dTR" x="2016" y="-16" width="114" height="32"/><path class="dTR" d="M2130 -16L2158 0L2130 16Z"/><path class="ol" d="M1746 -16H2130L2158 0L2130 16H1746Z"/><text class="cl" x="1731" y="13">Gsp01266</text></g>
<g id="c-Gsp00614" transform="translate(0,2077)"><path class="bg" d="M1746 -16H2128L2157 0L2128 16H1746Z"/><rect class="dA" x="1753" y="-16" width="132" height="32"/><rect class="dT" x="1964" y="-16" width="33" height="32"/><rect class="dTR" x="2016" y="-16" width="112" height="32"/><path class="dTR" d="M2128 -16L2157 0L2128 16Z"/><path class="ol" d="M1746 -16H2128L2157 0L2128 16H1746Z"/><text class="cl" x="1731" y="13">Gsp00614</text></g>
<g id="c-Gsp00150" transform="translate(0,2130)"><path class="bg" d="M1746 -16H2128L2157 0L2128 16H1746Z"/><rect class="dA" x="1753" y="-16" width="131" height="32"/><rect class="dT" x="1964" y="-16" width="33" height="32"/><rect class="dTR" x="2015" y="-16" width="113" height="32"/><path class="dTR" d="M2128 -16L2157 0L2128 16Z"/><path class="ol" d="M1746 -16H2128L2157 0L2128 16H1746Z"/><text class="cl" x="1731" y="13">Gsp00150</text></g>
<g id="c-Gsp08511" transform="translate(0,2182)"><path class="bg" d="M1746 -16H2128L2157 0L2128 16H1746Z"/><rect class="dA" x="1753" y="-16" width="131" height="32"/><rect class="dT" x="1964" y="-16" width="33" height="32"/><rect class="dTR" x="2016" y="-16" width="112" height="32"/><path class="dTR" d="M2128 -16L2157 0L2128 16Z"/><path class="ol" d="M1746 -16H2128L2157 0L2128 16H1746Z"/><text class="cl" x="1731" y="13">Gsp08511</text></g>
<g id="c-Gsp07094" transform="translate(0,2235)"><path class="bg" d="M1746 -16H2128L2155 0L2128 16H1746Z"/><rect class="dA" x="1757" y="-16" width="128" height="32"/><rect class="dTR" x="2015" y="-16" width="113" height="32"/><path class="ol" d="M1746 -16H2128L2155 0L2128 16H1746Z"/><text class="cl" x="1731" y="13">Gsp07094</text></g>
<g id="c-Gsp04529" transform="translate(0,2288)"><path class="bg" d="M1746 -16H2125L2153 0L2125 16H1746Z"/><rect class="dA" x="1750" y="-16" width="124" height="32"/><rect class="dT" x="1959" y="-16" width="33" height="32"/><rect class="dTR" x="2011" y="-16" width="114" height="32"/><path class="ol" d="M1746 -16H2125L2153 0L2125 16H1746Z"/><text class="cl" x="1731" y="13">Gsp04529</text></g>
<g id="c-Gsp06242" transform="translate(0,2341)"><path class="bg" d="M1746 -16H2125L2153 0L2125 16H1746Z"/><rect class="dA" x="1759" y="-16" width="129" height="32"/><rect class="dT" x="1961" y="-16" width="33" height="32"/><rect class="dTR" x="2013" y="-16" width="112" height="32"/><path class="dTR" d="M2125 -16L2153 0L2125 16Z"/><path class="ol" d="M1746 -16H2125L2153 0L2125 16H1746Z"/><text class="cl" x="1731" y="13">Gsp06242</text></g>
<g id="c-Gsp11070" transform="translate(0,2394)"><path class="bg" d="M1746 -16H2120L2148 0L2120 16H1746Z"/><rect class="dA" x="1770" y="-16" width="139" height="32"/><rect class="dTR" x="2009" y="-16" width="111" height="32"/><path class="dTR" d="M2120 -16L2148 0L2120 16Z"/><path class="ol" d="M1746 -16H2120L2148 0L2120 16H1746Z"/><text class="cl" x="1731" y="13">Gsp11070</text></g>
<g id="c-Gsp00678" transform="translate(0,2446)"><path class="bg" d="M1746 -16H2120L2148 0L2120 16H1746Z"/><rect class="dA" x="1781" y="-16" width="133" height="32"/><rect class="dT" x="1960" y="-16" width="27" height="32"/><rect class="dTR" x="2006" y="-16" width="114" height="32"/><path class="ol" d="M1746 -16H2120L2148 0L2120 16H1746Z"/><text class="cl" x="1731" y="13">Gsp00678</text></g>
<g id="c-Gsp06643" transform="translate(0,2499)"><path class="bg" d="M1746 -16H2098L2125 0L2098 16H1746Z"/><rect class="dA" x="1746" y="-16" width="107" height="32"/><rect class="dT" x="1937" y="-16" width="27" height="32"/><rect class="dTR" x="1985" y="-16" width="113" height="32"/><path class="dTR" d="M2098 -16L2125 0L2098 16Z"/><path class="ol" d="M1746 -16H2098L2125 0L2098 16H1746Z"/><text class="cl" x="1731" y="13">Gsp06643</text></g>
<g id="c-Gsp08505" transform="translate(0,2552)"><path class="bg" d="M1746 -16H2087L2113 0L2087 16H1746Z"/><rect class="dKS" x="1768" y="-16" width="160" height="32"/><rect class="dAT" x="1966" y="-16" width="72" height="32"/><path class="ol" d="M1746 -16H2087L2113 0L2087 16H1746Z"/><text class="cl" x="1731" y="13">Gsp08505</text></g>
<g id="c-Gsp01779" transform="translate(0,2605)"><path class="bg" d="M1746 -16H2686L2713 0L2686 16H1746Z"/><rect class="dKS" x="1746" y="-16" width="108" height="32"/><rect class="dAT" x="1892" y="-16" width="118" height="32"/><rect class="dDH" x="2048" y="-16" width="109" height="32"/><rect class="dMT" x="2223" y="-16" width="39" height="32"/><rect class="dER" x="2350" y="-16" width="103" height="32"/><rect class="dKR" x="2469" y="-16" width="65" height="32"/><rect class="dACP" x="2569" y="-16" width="24" height="32"/><rect class="dTE" x="2612" y="-16" width="42" height="32"/><path class="ol" d="M1746 -16H2686L2713 0L2686 16H1746Z"/><text class="cl" x="1731" y="13">Gsp01779</text></g>
<g id="c-Gsp08241" transform="translate(0,2658)"><path class="bg" d="M1746 -16H2648L2675 0L2648 16H1746Z"/><rect class="dKS" x="1748" y="-16" width="158" height="32"/><rect class="dAT" x="1943" y="-16" width="116" height="32"/><rect class="dDH" x="2096" y="-16" width="85" height="32"/><rect class="dER" x="2311" y="-16" width="31" height="32"/><rect class="dKR" x="2387" y="-16" width="58" height="32"/><rect class="dACP" x="2485" y="-16" width="24" height="32"/><rect class="dTR" x="2528" y="-16" width="113" height="32"/><path class="ol" d="M1746 -16H2648L2675 0L2648 16H1746Z"/><text class="cl" x="1731" y="13">Gsp08241</text></g>
<g id="c-Gsp07849" transform="translate(0,2710)"><path class="bg" d="M1746 -16H2524L2550 0L2524 16H1746Z"/><rect class="dSAT" x="1759" y="-16" width="82" height="32"/><rect class="dKS" x="1892" y="-16" width="164" height="32"/><rect class="dAT" x="2097" y="-16" width="114" height="32"/><rect class="dPT" x="2248" y="-16" width="111" height="32"/><rect class="dACP" x="2376" y="-16" width="16" height="32"/><rect class="dACP" x="2418" y="-16" width="23" height="32"/><rect class="dTE" x="2464" y="-16" width="60" height="32"/><path class="dTE" d="M2524 -16L2550 0L2524 16Z"/><path class="ol" d="M1746 -16H2524L2550 0L2524 16H1746Z"/><text class="cl" x="1731" y="13">Gsp07849</text></g>
<g id="c-Gsp03380" transform="translate(0,2763)"><path class="bg" d="M1746 -16H2694L2721 0L2694 16H1746Z"/><rect class="dKS" x="1746" y="-16" width="161" height="32"/><rect class="dAT" x="1946" y="-16" width="117" height="32"/><rect class="dDH" x="2095" y="-16" width="99" height="32"/><rect class="dMT" x="2243" y="-16" width="28" height="32"/><rect class="dKR" x="2424" y="-16" width="62" height="32"/><rect class="dACP" x="2527" y="-16" width="15" height="32"/><rect class="dTR" x="2583" y="-16" width="103" height="32"/><path class="ol" d="M1746 -16H2694L2721 0L2694 16H1746Z"/><text class="cl" x="1731" y="13">Gsp03380</text></g>
<g id="c-Gsp09146" transform="translate(0,2816)"><path class="bg" d="M1746 -16H2676L2702 0L2676 16H1746Z"/><rect class="dKS" x="1746" y="-16" width="155" height="32"/><rect class="dAT" x="1941" y="-16" width="112" height="32"/><rect class="dDH" x="2093" y="-16" width="89" height="32"/><rect class="dMT" x="2253" y="-16" width="37" height="32"/><rect class="dER" x="2377" y="-16" width="18" height="32"/><rect class="dKR" x="2462" y="-16" width="56" height="32"/><rect class="dACP" x="2564" y="-16" width="15" height="32"/><rect class="dTE" x="2598" y="-16" width="46" height="32"/><path class="ol" d="M1746 -16H2676L2702 0L2676 16H1746Z"/><text class="cl" x="1731" y="13">Gsp09146</text></g>
<g id="c-Gsp12065" transform="translate(0,2869)"><path class="bg" d="M1746 -16H2304L2330 0L2304 16H1746Z"/><rect class="dKS" x="1746" y="-16" width="126" height="32"/><rect class="dAT" x="1910" y="-16" width="112" height="32"/><rect class="dDH" x="2060" y="-16" width="95" height="32"/><path class="ol" d="M1746 -16H2304L2330 0L2304 16H1746Z"/><text class="cl" x="1731" y="13">Gsp12065</text></g>
</g>

<g id="brackets">
<path class="brk" d="M2369 1218H2394V1247H2369"/><text class="bt" x="2422" y="1244">Hybrid NRPS-PKS</text>
<path class="brk" d="M3375 1269H3403V1407H3375"/><text class="bt" x="3430" y="1350">NRPS</text>
<path class="brk" d="M2250 1427H2276V2514H2250"/><text class="bt" x="2302" y="1978">NRPS-like</text>
<path class="brk" d="M2740 2589H2766V2673H2740"/><text class="bt" x="2793" y="2644">Highly-reducing</text>
<path class="brk" d="M2582 2694H2609V2725H2582"/><text class="bt" x="2636" y="2722">Non-reducing</text>
<path class="brk" d="M2748 2747H2774V2885H2748"/><text class="bt" x="2801" y="2828">Partially-reducing</text>
<path class="brk" d="M3137 2536H3163V2885H3137"/><text class="bt" x="3181" y="2722">Type I</text>
<path class="brk" d="M3297 2536H3323V2885H3297"/><text class="bt" x="3352" y="2722">PKS</text>
</g>

<g id="axis-C">
<path class="ax" d="M1746 2906H3350M1746 2906V2922M1939 2906V2922M2132 2906V2922M2325 2906V2922M2518 2906V2922M2711 2906V2922M2904 2906V2922M3097 2906V2922M3290 2906V2922M3350 2906V2922"/>
<text class="cax" x="1749" y="2955">0</text>
<text class="cax" x="1939" y="2955">500</text>
<text class="cax" x="2132" y="2955">1000</text>
<text class="cax" x="2325" y="2955">1500</text>
<text class="cax" x="2518" y="2955">2000</text>
<text class="cax" x="2711" y="2955">2500</text>
<text class="cax" x="2904" y="2955">3000</text>
<text class="cax" x="3097" y="2955">3500</text>
<text class="cax" x="3290" y="2955">4000</text>
</g>

<g id="legend-C">
<rect class="dC" x="2879" y="1565" width="82" height="37"/><text class="lgC" x="2973" y="1594">C</text>
<rect class="dA" x="2879" y="1619" width="82" height="37"/><text class="lgC" x="2973" y="1648">A</text>
<rect class="dT" x="2879" y="1674" width="82" height="37"/><text class="lgC" x="2973" y="1703">T</text>
<rect class="dKS" x="2879" y="1728" width="82" height="37"/><text class="lgC" x="2973" y="1757">KS</text>
<rect class="dMT" x="2879" y="1783" width="82" height="37"/><text class="lgC" x="2973" y="1812">MT</text>
<rect class="dTE" x="2879" y="1837" width="82" height="37"/><text class="lgC" x="2973" y="1866">TE</text>
<rect class="dR" x="2879" y="1892" width="82" height="37"/><text class="lgC" x="2973" y="1921">R</text>
<rect class="dTR" x="2879" y="1946" width="82" height="37"/><text class="lgC" x="2973" y="1975">TR</text>
<rect class="dAT" x="2879" y="2001" width="82" height="37"/><text class="lgC" x="2973" y="2030">AT</text>
<rect class="dDH" x="2879" y="2055" width="82" height="37"/><text class="lgC" x="2973" y="2084">DH</text>
<rect class="dER" x="2879" y="2110" width="82" height="37"/><text class="lgC" x="2973" y="2139">ER</text>
<rect class="dKR" x="2879" y="2164" width="82" height="37"/><text class="lgC" x="2973" y="2193">KR</text>
<rect class="dACP" x="2879" y="2219" width="82" height="37"/><text class="lgC" x="2973" y="2248">ACP</text>
<rect class="dSAT" x="2879" y="2273" width="82" height="37"/><text class="lgC" x="2973" y="2302">SAT</text>
<rect class="dPT" x="2879" y="2328" width="82" height="37"/><text class="lgC" x="2973" y="2357">PT</text>
</g>
</svg>
